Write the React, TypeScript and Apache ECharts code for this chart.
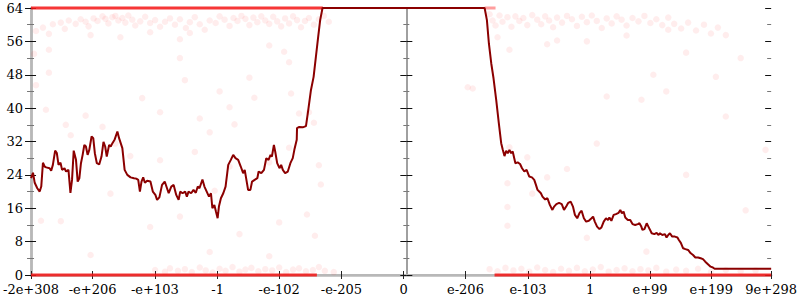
import React, { useEffect, useRef } from "react";
import * as echarts from "echarts";

// x is an ordinal position along the axis (0 = -2e+308 ... 745.7 = 9e+298)
const xTickPos = [0, 62, 124.7, 188, 250, 312.7, 375.3, 437.7, 500.7, 563.3, 623.7, 685.3, 745.7];
const xTickLabels = ["-2e+308", "-e+206", "-e+103", "-1", "-e-102", "-e-205", "0", "e-206", "e-103", "1", "e+99", "e+199", "9e+298"];
const zeroPos = 375.3;

const errorLine: [number, number][] = [
  [0, 23.2], [2, 24.5], [3.7, 22.1], [6.3, 20.8], [8.7, 20.0], [10.3, 21.2], [12, 26.9], [13.7, 26.0], [15.3, 25.8], [18.7, 25.6],
  [20.3, 25.0], [22, 26.4], [24.3, 29.8], [26, 29.2], [27.7, 26.4], [29.7, 26.9], [31.3, 25.2], [33.7, 25.6], [35.3, 24.8], [37.7, 25.2],
  [39.7, 19.7], [41.3, 22.8], [43, 29.8], [45.3, 27.6], [47, 22.4], [48.7, 23.2], [50.3, 26.8], [52, 28.8], [53.7, 31.2], [55.3, 30.8],
  [57, 28.8], [58.7, 30.0], [61, 33.2], [62.7, 32.8], [64.3, 29.2], [66.3, 26.8], [68.7, 26.5], [71, 28.4], [73, 31.9], [74.7, 30.8],
  [76.3, 28.4], [78.7, 31.2], [80.3, 30.8], [82, 31.6], [84.3, 32.5], [87, 34.4], [88.7, 32.8], [92, 30.4], [94.3, 25.2], [97, 24.0],
  [100.3, 23.4], [103.7, 23.2], [106, 23.1], [108, 22.8], [109.7, 20.0], [111.3, 22.4], [113, 23.4], [114.7, 22.1], [117, 22.6], [120.3, 22.4],
  [122.7, 20.0], [125.3, 19.2], [127, 18.0], [129.3, 18.6], [132, 21.6], [134.7, 22.4], [137, 20.8], [138.7, 19.6], [141.3, 21.2], [143.7, 21.6],
  [146.3, 19.2], [148.7, 18.0], [150.3, 20.0], [152.7, 19.6], [155.3, 20.0], [157, 18.8], [158.7, 20.0], [161.3, 19.6], [163.7, 20.4], [166, 19.7],
  [168, 21.2], [169.7, 20.8], [172.7, 22.9], [174.7, 21.2], [177, 20.0], [179.3, 18.8], [181.3, 19.6], [182.7, 16.0], [184.7, 16.8], [186.3, 15.2],
  [188, 13.6], [189.3, 16.4], [191.3, 18.4], [193.7, 19.6], [196, 21.2], [198.7, 26.4], [201.3, 27.6], [203.7, 28.8], [206, 28.0], [208.7, 27.6],
  [211.3, 26.0], [213.7, 24.4], [215.3, 25.2], [217, 22.8], [218.7, 20.4], [221, 20.4], [222.7, 22.4], [225.3, 22.8], [228, 23.2], [229.3, 24.8],
  [232, 24.4], [234.7, 25.2], [237, 28.0], [239.3, 27.6], [241.3, 28.8], [242.7, 28.4], [244.7, 31.2], [246, 29.6], [248, 26.8], [250.3, 25.6],
  [252, 26.4], [253.7, 25.2], [256, 24.4], [258.7, 24.8], [261.3, 26.8], [263.7, 28.0], [265.3, 30.0], [267.7, 32.4], [268, 35.2], [270.3, 35.5],
  [273.7, 35.4], [277, 35.7], [279.3, 39.5], [282, 44.3], [284.7, 47.5], [287, 52.3], [289.3, 57.1], [291.3, 61.1], [293.7, 64],
  [457, 64], [459.3, 61.1], [461.3, 55.5], [463.7, 50.7], [466, 47.1], [468.7, 41.9], [471.3, 36.4], [473.7, 31.6], [475.3, 30.0], [477, 28.5],
  [478.7, 29.8], [480.3, 29.2], [482, 30.0], [483.7, 29.2], [485.3, 29.6], [488, 26.8], [490.3, 27.0], [492.7, 26.6], [494.7, 25.6], [497, 24.8],
  [499.3, 25.2], [502, 23.6], [504.7, 23.4], [507, 22.8], [508.7, 21.6], [510.3, 20.4], [512, 20.0], [513.7, 19.6], [515.3, 18.8], [518, 18.1],
  [520.3, 18.4], [522.7, 16.8], [525.3, 15.6], [527, 16.4], [529.3, 17.0], [532, 17.3], [534.7, 17.0], [537, 15.6], [539.3, 16.5], [541.3, 17.3],
  [543.7, 17.6], [546, 16.4], [548, 14.4], [550.3, 13.6], [552.7, 14.9], [554.7, 15.4], [557, 13.6], [559.3, 12.8], [562, 13.0], [564.7, 13.6],
  [566.3, 14.0], [568, 12.8], [570.3, 11.6], [572.7, 11.0], [574.7, 11.4], [577, 12.8], [579.3, 13.6], [581.3, 13.2], [582.7, 13.8], [584.7, 13.0],
  [587, 14.4], [589.3, 14.6], [592, 14.9], [593.7, 15.6], [595.3, 14.8], [597, 15.2], [598.7, 13.8], [601.3, 13.2], [603.7, 13.2], [606, 12.2],
  [608.7, 12.0], [611.3, 12.2], [613, 12.4], [614.7, 11.7], [616, 10.8], [618, 11.0], [620.3, 12.4], [622, 11.6], [623.7, 10.8], [625.3, 10.0],
  [628, 9.8], [630.3, 10.1], [632, 9.6], [633.7, 10.0], [636, 9.6], [638.7, 9.8], [640.3, 9.0], [642, 9.6], [643.7, 10.0], [646, 9.2],
  [648.7, 9.2], [651.3, 9.0], [652.7, 8.4], [654.7, 7.7], [657, 6.4], [659.3, 6.2], [662, 6.0], [664.7, 5.2], [667, 4.8], [669.3, 4.2],
  [672, 4.2], [674.7, 4.0], [677, 3.8], [679.3, 3.2], [682, 2.6], [684.7, 2.0], [687, 1.8], [688.7, 1.5], [745.7, 1.5],
];

// faint sample points (error of individual inputs)
const pointsTopLeft: [number, number][] = [
  [5, 58.5], [12, 59.3], [18, 57.8], [22, 60.1], [30, 60.5], [34, 59.0], [38, 61.0], [45, 60.2], [50, 61.3], [55, 60.7],
  [58, 59.6], [63, 61.5], [67, 60.9], [72, 62.0], [75, 61.4], [78, 60.3], [82, 61.8], [85, 62.1], [88, 61.0], [92, 61.6],
  [95, 60.5], [98, 62.2], [102, 61.2], [105, 59.8], [110, 60.8], [115, 61.9], [120, 60.4], [125, 61.1], [130, 59.5], [135, 60.7],
  [140, 61.5], [145, 60.0], [150, 61.3], [156, 59.2], [160, 60.6], [165, 61.8], [170, 60.1], [175, 58.8], [180, 61.0], [186, 60.4],
  [190, 62.0], [195, 61.2], [200, 59.7], [204, 61.6], [208, 60.9], [212, 62.1], [216, 61.4], [220, 59.9], [224, 61.7], [228, 60.6],
  [232, 62.0], [236, 61.0], [240, 60.2], [244, 61.9], [248, 60.8], [252, 59.6], [256, 61.5], [260, 60.3], [264, 62.0], [268, 61.1],
  [272, 59.4], [276, 60.9], [280, 61.6], [285, 60.0], [290, 61.3], [295, 62.1], [300, 60.7],
  [18, 54], [90, 57], [150, 56.5], [240, 55], [255, 53.5], [160, 58], [60, 57.5], [120, 58.2],
];
const pointsTopRight: [number, number][] = [
  [462, 62.5], [465, 61.0], [468, 59.8], [472, 62.2], [475, 60.7], [480, 61.8], [484, 59.5], [488, 62.0], [492, 60.9], [496, 61.6],
  [500, 59.9], [505, 62.3], [510, 61.2], [514, 60.1], [518, 62.0], [522, 61.0], [526, 59.4], [530, 61.7], [535, 60.5], [540, 62.1],
  [545, 61.3], [550, 59.7], [555, 61.9], [560, 60.6], [565, 62.2], [570, 60.9], [575, 59.2], [580, 61.5], [585, 60.3], [590, 62.0],
  [595, 61.2], [600, 59.8], [606, 61.6], [612, 60.8], [618, 62.1], [624, 60.4], [630, 61.3], [636, 59.9], [642, 61.7], [648, 60.2],
  [655, 59.1], [662, 60.5], [670, 58.6], [678, 60.0], [685, 57.9], [692, 59.3],
  [470, 57], [530, 56.2], [600, 57.4], [642, 58.8], [482, 54], [700, 57.5], [560, 56], [520, 55.3],
];
const pointsMiddle: [number, number][] = [
  [3, 53], [5, 45.5], [15, 39.6], [18, 48.5], [35, 36], [40, 33.5], [55, 38.2], [72, 35.5], [85, 31.5], [112, 42.4],
  [150, 52], [155, 46.7], [130, 39], [170, 37.5], [180, 34.2], [165, 29.5], [190, 44], [200, 40.2], [205, 36.1], [220, 47.3],
  [225, 42.5], [260, 51], [262, 43.5], [270, 38.7], [280, 39], [285, 36.5], [290, 26.3], [292, 21.7], [286, 9.4], [180, 5.5],
  [240, 27], [260, 30.5], [278, 14.5], [250, 12.6], [210, 9.8], [150, 14], [120, 11.5], [100, 28.5], [30, 12.9], [10, 13],
  [60, 4.8], [185, 20.2], [240, 4.5], [80, 19.5], [200, 26], [130, 27.5],
  [440, 45], [445, 44.7], [480, 16.3], [482, 30.6], [500, 28.2], [480, 22], [505, 19.5], [570, 31.5], [580, 42.8], [615, 42],
  [627, 48], [640, 44], [660, 53.3], [690, 47.5], [715, 52], [700, 38], [660, 24], [540, 25.4], [520, 23.4], [740, 30],
  [720, 15.5], [480, 11.8], [560, 8.9], [620, 5.6],
];
const pointsBottom: [number, number][] = [
  [125, 1.2], [135, 0.8], [140, 1.6], [148, 1.0], [155, 1.4], [162, 0.7], [170, 1.8], [176, 1.1], [183, 0.6], [190, 1.5],
  [196, 1.0], [203, 1.9], [210, 0.8], [216, 1.3], [222, 1.7], [229, 0.9], [236, 1.4], [243, 1.1], [250, 1.8], [257, 0.7],
  [264, 1.3], [270, 1.6], [277, 0.9], [284, 1.2], [290, 1.9], [296, 1.0], [305, 0.7],
  [462, 1.4], [470, 0.9], [478, 1.7], [486, 1.1], [494, 1.5], [502, 0.8], [510, 1.8], [518, 1.2], [526, 0.7], [534, 1.5],
  [542, 1.0], [550, 1.7], [558, 0.9], [566, 1.3], [574, 1.9], [582, 0.8], [590, 1.2], [598, 1.6], [606, 0.9], [614, 1.4],
  [622, 1.1], [630, 1.7], [640, 0.8], [650, 1.3], [660, 1.0], [672, 1.5], [685, 0.7], [700, 1.2], [715, 0.9], [730, 1.1],
];
// dense runs of samples sitting exactly on 0 or 64 bits of error
const bandTopLeft: [number, number][] = [[0, 64], [294, 64]];
const bandTopRight: [number, number][] = [[457, 64], [468, 64]];
const bandBottomLeft: [number, number][] = [[0, 0], [288, 0]];
const bandBottomRight: [number, number][] = [[467, 0], [745.7, 0]];

const FONT = "DejaVu Serif";
const AXIS_GRAY = "#b8b8b8";

function yAx(extra: any) {
  return {
    type: "value",
    min: 0,
    max: 64,
    interval: 8,
    splitLine: { show: false },
    axisLabel: { show: false },
    axisLine: { show: true, lineStyle: { color: AXIS_GRAY, width: 2.5 } },
    axisTick: { show: true, length: 6, lineStyle: { color: "#111", width: 1 } },
    minorTick: { show: true, splitNumber: 2, length: 4, lineStyle: { color: "#777", width: 1 } },
    ...extra,
  };
}

export default function App() {
  const ref = useRef<HTMLDivElement>(null);
  useEffect(() => {
    if (!ref.current) return;
    const chart = echarts.init(ref.current, null, { renderer: "svg" });
    const nearestLabel = (v: number) => {
      let best = 0;
      for (let i = 1; i < xTickPos.length; i++) {
        if (Math.abs(xTickPos[i] - v) < Math.abs(xTickPos[best] - v)) best = i;
      }
      return xTickLabels[best];
    };
    const xBase = {
      type: "value",
      min: 0,
      max: 745.7,
      splitLine: { show: false },
    };
    chart.setOption({
      animation: false,
      backgroundColor: "#fff",
      grid: { left: 28, right: 26.3, top: 8, bottom: 25 },
      xAxis: [
        {
          ...xBase,
          position: "bottom",
          axisLine: { show: true, lineStyle: { color: AXIS_GRAY, width: 2.5 } },
          axisTick: { show: true, length: 4, customValues: xTickPos, lineStyle: { color: "#222" } },
          axisLabel: {
            show: true,
            customValues: xTickPos,
            formatter: (v: number) => nearestLabel(v),
            fontFamily: FONT,
            fontSize: 13,
            color: "#000",
            margin: 8,
          },
        },
        {
          ...xBase,
          position: "bottom",
          axisLine: { show: false },
          axisTick: { show: true, inside: true, length: 4, customValues: xTickPos, lineStyle: { color: "#222" } },
          axisLabel: { show: false },
        },
        {
          ...xBase,
          position: "top",
          axisLine: { show: true, lineStyle: { color: AXIS_GRAY, width: 2 } },
          axisTick: { show: false },
          axisLabel: { show: false },
        },
      ],
      yAxis: [
        yAx({
          position: "left",
          axisLabel: { show: true, fontFamily: FONT, fontSize: 13, color: "#000", margin: 8 },
        }),
        yAx({ position: "left", axisLine: { show: false }, axisTick: { show: true, inside: true, length: 3, lineStyle: { color: "#111" } }, minorTick: { show: true, splitNumber: 2, length: 2, lineStyle: { color: "#777" } } }),
        yAx({ position: "right", axisTick: { show: true, length: 5, lineStyle: { color: "#111" } }, minorTick: { show: true, splitNumber: 2, length: 3, lineStyle: { color: "#777" } } }),
        yAx({ position: "right", axisLine: { show: false }, axisTick: { show: true, inside: true, length: 6, lineStyle: { color: "#111" } }, minorTick: { show: true, splitNumber: 2, length: 4, lineStyle: { color: "#777" } } }),
        yAx({ position: "left", offset: -zeroPos, axisLine: { show: true, lineStyle: { color: "#808080", width: 1.5 } }, axisTick: { show: true, length: 6, lineStyle: { color: "#111" } }, minorTick: { show: true, splitNumber: 2, length: 3, lineStyle: { color: "#777" } } }),
        yAx({ position: "left", offset: -zeroPos, axisLine: { show: false }, axisTick: { show: true, inside: true, length: 6, lineStyle: { color: "#111" } }, minorTick: { show: true, splitNumber: 2, length: 3, lineStyle: { color: "#777" } } }),
      ],
      series: [
        {
          type: "scatter",
          name: "samples",
          data: [...pointsTopLeft, ...pointsTopRight, ...pointsMiddle, ...pointsBottom],
          symbol: "circle",
          symbolSize: 6.5,
          itemStyle: { color: "rgba(255,0,0,0.09)" },
          silent: true,
          z: 3,
        },
        ...[bandTopLeft, bandTopRight, bandBottomLeft, bandBottomRight].map((d, i) => ({
          type: "line",
          name: "band" + i,
          data: d,
          symbol: "none",
          clip: false,
          lineStyle: { color: i === 1 ? "rgba(255,40,40,0.45)" : "rgba(245,20,20,0.85)", width: 3 },
          z: 4,
        })),
        {
          type: "line",
          name: "error",
          data: errorLine,
          symbol: "none",
          clip: false,
          lineStyle: { color: "#8b0000", width: 2 },
          z: 5,
        },
      ],
    });
    return () => chart.dispose();
  }, []);
  return <div ref={ref} style={{ position: "fixed", left: 0, top: 0, width: 800, height: 300 }} />;
}
